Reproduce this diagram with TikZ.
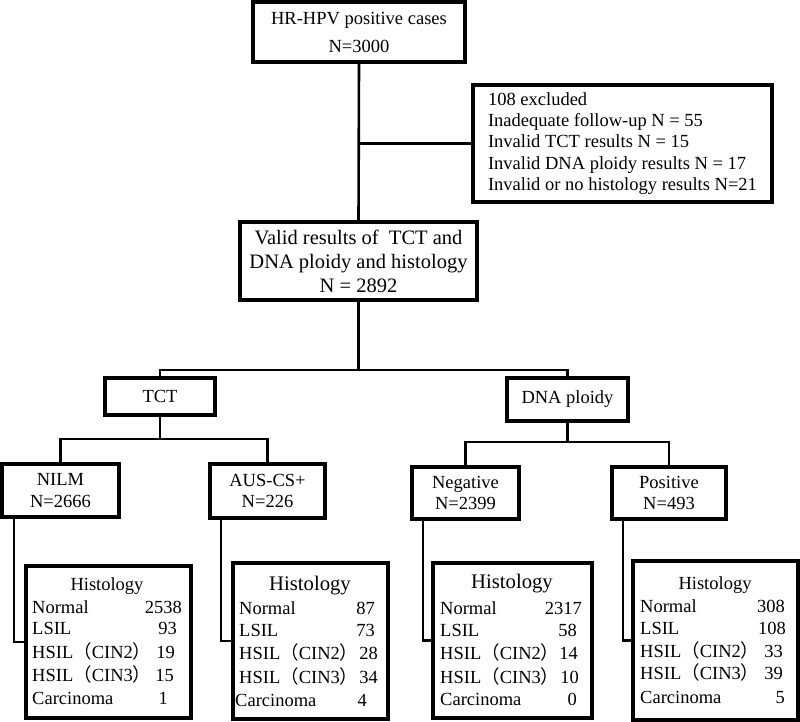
\documentclass[tikz,border=0pt]{standalone}
\usepackage{fontspec}
\setmainfont{Liberation Serif}
\newfontfamily\cjkf{Noto Sans CJK SC}
\newcommand\mainfs{\fontsize{18.5pt}{21.5pt}\selectfont}
\newcommand\histfs{\fontsize{20.7pt}{24pt}\selectfont}
\newcommand\hsiltwo{HSIL{\cjkf （}CIN2{\cjkf ）}}
\newcommand\hsilthree{HSIL{\cjkf （}CIN3{\cjkf ）}}
\begin{document}
\begin{tikzpicture}[x=1pt,y=-1pt,
  box/.style={draw, line width=3.7pt, inner sep=0pt, align=center, font=\mainfs},
  conn/.style={line width=2.6pt},
  lbl/.style={inner sep=0pt, font=\mainfs}]
\useasboundingbox (0,0) rectangle (800,722);

% main boxes
\node[box, minimum width=212, minimum height=60] (top) at (359,32) {HR-HPV positive cases\\[6.5pt]N=3000};
\node[box, minimum width=299, minimum height=117, align=left, font=\fontsize{18.5pt}{21.3pt}\selectfont] (excl) at (622.5,143.5)
  {108 excluded\\Inadequate follow-up N = 55\\Invalid TCT results N = 15\\Invalid DNA ploidy results N = 17\\Invalid or no histology results N=21};
\node[box, minimum width=237, minimum height=78, font=\fontsize{20.5pt}{24pt}\selectfont] (valid) at (358.5,261)
  {Valid results of~ TCT and\\DNA ploidy and histology\\N = 2892};
\node[box, minimum width=110, minimum height=37] (tct) at (160,396.5) {TCT};
\node[box, minimum width=121, minimum height=43] (dna) at (567.5,399.5) {DNA ploidy};
\node[box, minimum width=117, minimum height=53] (nilm) at (60.5,490.5) {NILM\\N=2666};
\node[box, minimum width=115, minimum height=54] (aus) at (267.5,491) {AUS-CS+\\N=226};
\node[box, minimum width=107, minimum height=52] (neg) at (465.5,493) {Negative\\N=2399};
\node[box, minimum width=114, minimum height=52] (pos) at (669,493) {Positive\\N=493};

% histology boxes
\node[box, minimum width=165, minimum height=152] (h1) at (108.5,642) {};
\node[box, minimum width=155, minimum height=156] (h2) at (310.5,641) {};
\node[box, minimum width=159, minimum height=155] (h3) at (512.5,640.5) {};
\node[box, minimum width=165, minimum height=159] (h4) at (715.5,640.5) {};

\node[lbl] (h1t) at (107,586) {Histology};
\node[lbl, font=\histfs] (h2t) at (310,586) {Histology};
\node[lbl, font=\histfs] (h3t) at (512,584) {Histology};
\node[lbl] (h4t) at (715,585) {Histology};

\foreach \i/\lab/\num/\lx/\y/\xr in {1/Normal/2538/32/607/182, 2/LSIL/93/32/628/177,
  3/\hsiltwo/19/32/652/175, 4/\hsilthree/15/32/675/174, 5/Carcinoma/1/32/698/168}{
  \node[lbl, anchor=base west] (h1l\i) at (\lx,\y+6) {\lab};
  \node[lbl, anchor=base east] (h1n\i) at (\xr,\y+6) {\num};}
\foreach \i/\lab/\num/\lx/\y/\xr in {1/Normal/87/239/608/375, 2/LSIL/73/239/630/375,
  3/\hsiltwo/28/239/653/378, 4/\hsilthree/34/239/677/378, 5/Carcinoma/4/235/700/367}{
  \node[lbl, anchor=base west] (h2l\i) at (\lx,\y+6) {\lab};
  \node[lbl, anchor=base east] (h2n\i) at (\xr,\y+6) {\num};}
\foreach \i/\lab/\num/\lx/\y/\xr in {1/Normal/2317/440/608/582, 2/LSIL/58/440/630/577,
  3/\hsiltwo/14/440/653/578, 4/\hsilthree/10/440/677/579, 5/Carcinoma/0/440/699/577}{
  \node[lbl, anchor=base west] (h3l\i) at (\lx,\y+6) {\lab};
  \node[lbl, anchor=base east] (h3n\i) at (\xr,\y+6) {\num};}
\foreach \i/\lab/\num/\lx/\y/\xr in {1/Normal/308/640/606/785, 2/LSIL/108/640/628/786,
  3/\hsiltwo/33/640/651/783, 4/\hsilthree/39/640/673/783, 5/Carcinoma/5/640/697/785}{
  \node[lbl, anchor=base west] (h4l\i) at (\lx,\y+6) {\lab};
  \node[lbl, anchor=base east] (h4n\i) at (\xr,\y+6) {\num};}

% connectors
\coordinate (ex) at (top.south |- excl.west);
\draw[conn] (top.south) -- (valid.north);
\draw[conn] (ex) -- (excl.west);

\coordinate (b1) at (358.5,370);
\draw[conn] (valid.south) -- (b1);
\draw[conn] (tct.north) |- (b1) -| (dna.north);

\coordinate (b2) at (160,439);
\draw[conn] (tct.south) -- (b2);
\draw[conn] (nilm.north) |- (b2) -| (aus.north);

\coordinate (b3) at (567.5,442);
\draw[conn] (dna.south) -- (b3);
\draw[conn] (neg.north) |- (b3) -| (pos.north);

\coordinate (d1) at (14,0);
\coordinate (d2) at (221,0);
\coordinate (d3) at (423,0);
\coordinate (d4) at (623,0);
\draw[conn] (nilm.south -| d1) |- (h1.west);
\draw[conn] (aus.south -| d2) |- (h2.west);
\draw[conn] (neg.south -| d3) |- (h3.west);
\draw[conn] (pos.south -| d4) |- (h4.west);
\end{tikzpicture}
\end{document}
